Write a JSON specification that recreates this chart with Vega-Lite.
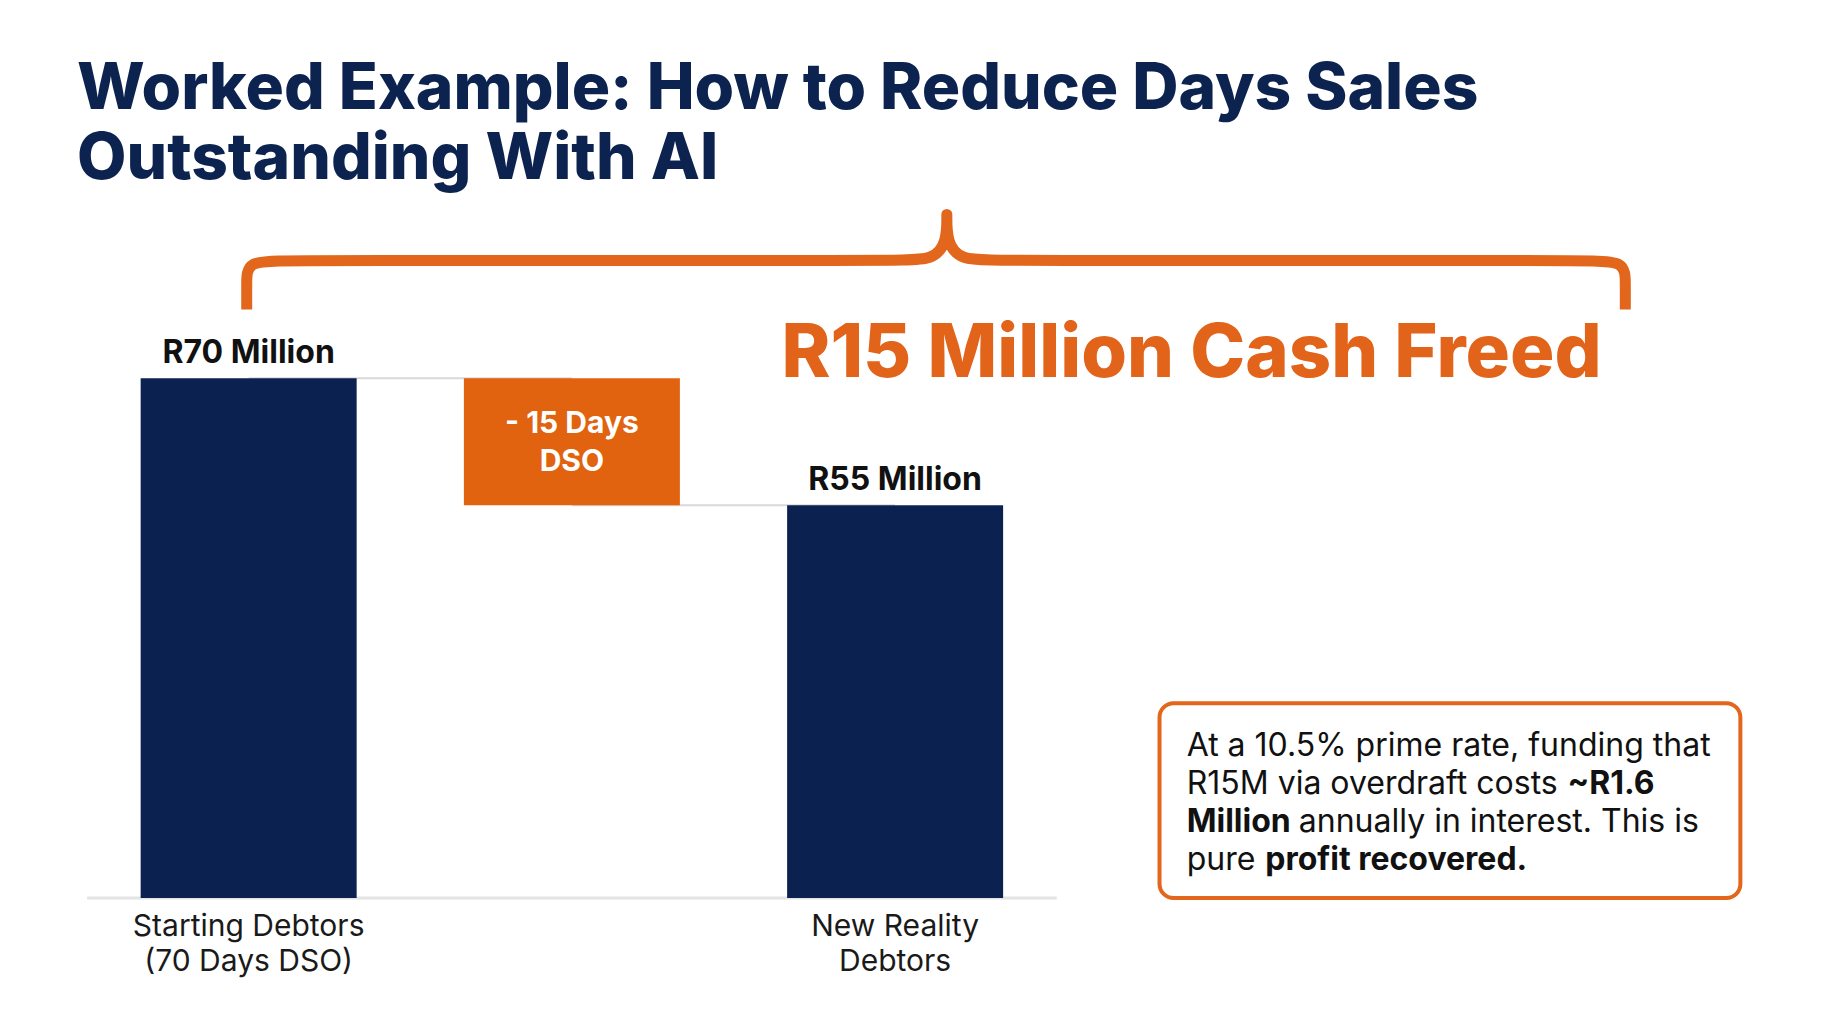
{
  "$schema": "https://vega.github.io/schema/vega-lite/v6.json",
  "width": 1834,
  "height": 708,
  "autosize": {"type": "none"},
  "padding": {"top": 190, "left": 0, "right": 0, "bottom": 126},
  "background": "#ffffff",
  "config": {"view": {"stroke": null}, "text": {"font": "Inter"}},
  "title": {
    "text": ["Worked Example: How to Reduce Days Sales", "Outstanding With AI"],
    "anchor": "start",
    "font": "Inter",
    "fontWeight": 800,
    "fontSize": 64,
    "lineHeight": 70,
    "color": "#0c2350",
    "dx": 77,
    "dy": 12,
    "offset": 10
  },
  "datasets": {
    "steps": [
      {"step": 1, "category": "Starting Debtors\n(70 Days DSO)", "low": 0, "high": 70, "kind": "total", "note": "R70 Million"},
      {"step": 2, "category": "", "low": 55, "high": 70, "kind": "change", "note": "- 15 Days\nDSO"},
      {"step": 3, "category": "New Reality\nDebtors", "low": 0, "high": 55, "kind": "total", "note": "R55 Million"}
    ],
    "connectors": [
      {"from": 1, "to": 2, "level": 70},
      {"from": 2, "to": 3, "level": 55}
    ],
    "brace": [
      {"seq": 1, "bx": 0.994, "by": 78.13},
      {"seq": 2, "bx": 0.994, "by": 81.2},
      {"seq": 3, "bx": 0.994, "by": 83.92},
      {"seq": 4, "bx": 1.120, "by": 83.92},
      {"seq": 5, "bx": 3.000, "by": 83.92},
      {"seq": 6, "bx": 3.120, "by": 83.92},
      {"seq": 7, "bx": 3.160, "by": 86.16},
      {"seq": 8, "bx": 3.160, "by": 89.35},
      {"seq": 9, "bx": 3.160, "by": 89.35},
      {"seq": 10, "bx": 3.160, "by": 89.35},
      {"seq": 11, "bx": 3.160, "by": 86.16},
      {"seq": 12, "bx": 3.200, "by": 83.92},
      {"seq": 13, "bx": 3.320, "by": 83.92},
      {"seq": 14, "bx": 5.133, "by": 83.92},
      {"seq": 15, "bx": 5.259, "by": 83.92},
      {"seq": 16, "bx": 5.259, "by": 81.2},
      {"seq": 17, "bx": 5.259, "by": 78.13}
    ],
    "headline": [{"text": "R15 Million Cash Freed"}],
    "callout": [
      {"line": 1, "part": 1, "text": "At a 10.5% prime rate, funding that", "strong": false},
      {"line": 2, "part": 1, "text": "R15M via overdraft costs", "strong": false},
      {"line": 2, "part": 2, "text": "~R1.6", "strong": true},
      {"line": 3, "part": 1, "text": "Million", "strong": true},
      {"line": 3, "part": 2, "text": "annually in interest. This is", "strong": false},
      {"line": 4, "part": 1, "text": "pure", "strong": false},
      {"line": 4, "part": 2, "text": "profit recovered.", "strong": true}
    ]
  },
  "encoding": {
    "x": {"type": "quantitative", "scale": {"domain": [0.2462, 5.8892], "nice": false, "zero": false}, "axis": null},
    "y": {"type": "quantitative", "scale": {"domain": [8.62, 92.24], "nice": false, "zero": false, "clamp": true}, "axis": null}
  },
  "layer": [
    {
      "data": {"name": "connectors"},
      "mark": {"type": "rule", "color": "#d9d9d9", "strokeWidth": 2},
      "encoding": {
        "x": {"field": "from", "type": "quantitative"},
        "x2": {"field": "to"},
        "y": {"field": "level", "type": "quantitative"}
      }
    },
    {
      "data": {"values": [{}]},
      "mark": {"type": "rule", "color": "#e4e4e4", "strokeWidth": 3},
      "encoding": {
        "x": {"datum": 0.5, "type": "quantitative"},
        "x2": {"datum": 3.5},
        "y": {"datum": 0, "type": "quantitative"}
      }
    },
    {
      "data": {"name": "steps"},
      "mark": {"type": "bar", "width": 216},
      "encoding": {
        "x": {"field": "step", "type": "quantitative"},
        "y": {"field": "high", "type": "quantitative"},
        "y2": {"field": "low"},
        "color": {"field": "kind", "type": "nominal", "scale": {"domain": ["total", "change"], "range": ["#0b2251", "#e1620f"]}, "legend": null}
      }
    },
    {
      "data": {"name": "steps"},
      "transform": [{"filter": "datum.kind == 'total'"}],
      "mark": {"type": "text", "baseline": "alphabetic", "align": "center", "dy": -15, "fontSize": 32, "fontWeight": 700, "color": "#111111"},
      "encoding": {
        "x": {"field": "step", "type": "quantitative"},
        "y": {"field": "high", "type": "quantitative"},
        "text": {"field": "note"}
      }
    },
    {
      "data": {"name": "steps"},
      "transform": [{"filter": "datum.kind == 'change'"}],
      "mark": {"type": "text", "baseline": "middle", "align": "center", "dy": 46, "lineBreak": "\n", "lineHeight": 38, "fontSize": 30, "fontWeight": 700, "color": "#ffffff"},
      "encoding": {
        "x": {"field": "step", "type": "quantitative"},
        "y": {"field": "high", "type": "quantitative"},
        "text": {"field": "note"}
      }
    },
    {
      "data": {"name": "steps"},
      "transform": [{"filter": "datum.category != ''"}],
      "mark": {"type": "text", "baseline": "top", "align": "center", "dy": 14, "lineBreak": "\n", "lineHeight": 35, "fontSize": 30, "fontWeight": 400, "color": "#1a1a1a"},
      "encoding": {
        "x": {"field": "step", "type": "quantitative"},
        "y": {"datum": 0, "type": "quantitative"},
        "text": {"field": "category"}
      }
    },
    {
      "data": {"name": "brace"},
      "mark": {"type": "line", "interpolate": "basis", "color": "#e2671c", "strokeWidth": 11, "strokeCap": "butt", "strokeJoin": "round"},
      "encoding": {
        "x": {"field": "bx", "type": "quantitative"},
        "y": {"field": "by", "type": "quantitative"},
        "order": {"field": "seq", "type": "quantitative"}
      }
    },
    {
      "data": {"name": "headline"},
      "mark": {"type": "text", "align": "center", "baseline": "alphabetic", "fontSize": 74, "fontWeight": 800, "color": "#e2631a"},
      "encoding": {
        "x": {"datum": 3.917, "type": "quantitative"},
        "y": {"datum": 70.1, "type": "quantitative"},
        "text": {"field": "text"}
      }
    },
    {
      "data": {"values": [{}]},
      "mark": {"type": "rect", "cornerRadius": 14, "fill": "#ffffff", "stroke": "#e2671c", "strokeWidth": 4},
      "encoding": {
        "x": {"datum": 3.818, "type": "quantitative"},
        "x2": {"datum": 5.615},
        "y": {"datum": 31.62, "type": "quantitative"},
        "y2": {"datum": 8.3}
      }
    },
    {
      "data": {"name": "callout"},
      "transform": [{"filter": "datum.line == 1 && datum.part == 1"}],
      "mark": {"type": "text", "align": "left", "baseline": "middle", "fontSize": 32, "fontWeight": 400, "color": "#111111"},
      "encoding": {"x": {"datum": 3.902, "type": "quantitative"}, "y": {"datum": 26.57, "type": "quantitative"}, "text": {"field": "text"}}
    },
    {
      "data": {"name": "callout"},
      "transform": [{"filter": "datum.line == 2 && datum.part == 1"}],
      "mark": {"type": "text", "align": "left", "baseline": "middle", "fontSize": 32, "fontWeight": 400, "color": "#111111"},
      "encoding": {"x": {"datum": 3.902, "type": "quantitative"}, "y": {"datum": 22.09, "type": "quantitative"}, "text": {"field": "text"}}
    },
    {
      "data": {"name": "callout"},
      "transform": [{"filter": "datum.line == 2 && datum.part == 2"}],
      "mark": {"type": "text", "align": "left", "baseline": "middle", "fontSize": 32, "fontWeight": 700, "color": "#111111"},
      "encoding": {"x": {"datum": 5.080, "type": "quantitative"}, "y": {"datum": 22.09, "type": "quantitative"}, "text": {"field": "text"}}
    },
    {
      "data": {"name": "callout"},
      "transform": [{"filter": "datum.line == 3 && datum.part == 1"}],
      "mark": {"type": "text", "align": "left", "baseline": "middle", "fontSize": 32, "fontWeight": 700, "color": "#111111"},
      "encoding": {"x": {"datum": 3.902, "type": "quantitative"}, "y": {"datum": 17.6, "type": "quantitative"}, "text": {"field": "text"}}
    },
    {
      "data": {"name": "callout"},
      "transform": [{"filter": "datum.line == 3 && datum.part == 2"}],
      "mark": {"type": "text", "align": "left", "baseline": "middle", "fontSize": 32, "fontWeight": 400, "color": "#111111"},
      "encoding": {"x": {"datum": 4.249, "type": "quantitative"}, "y": {"datum": 17.6, "type": "quantitative"}, "text": {"field": "text"}}
    },
    {
      "data": {"name": "callout"},
      "transform": [{"filter": "datum.line == 4 && datum.part == 1"}],
      "mark": {"type": "text", "align": "left", "baseline": "middle", "fontSize": 32, "fontWeight": 400, "color": "#111111"},
      "encoding": {"x": {"datum": 3.902, "type": "quantitative"}, "y": {"datum": 13.11, "type": "quantitative"}, "text": {"field": "text"}}
    },
    {
      "data": {"name": "callout"},
      "transform": [{"filter": "datum.line == 4 && datum.part == 2"}],
      "mark": {"type": "text", "align": "left", "baseline": "middle", "fontSize": 32, "fontWeight": 700, "color": "#111111"},
      "encoding": {"x": {"datum": 4.145, "type": "quantitative"}, "y": {"datum": 13.11, "type": "quantitative"}, "text": {"field": "text"}}
    }
  ]
}
